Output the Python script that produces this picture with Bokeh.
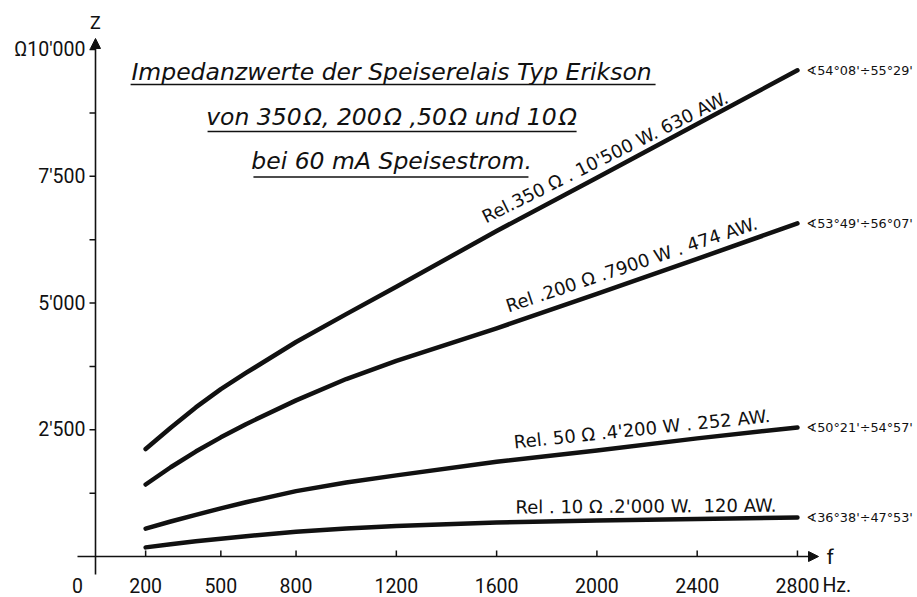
import math
from bokeh.plotting import figure
from bokeh.models import Range1d, Arrow, NormalHead
from bokeh.core.properties import value
from bokeh.embed import file_html
from bokeh.resources import INLINE

# ---------------- data ----------------
freq = [200, 300, 400, 500, 600, 800, 1000, 1200, 1600, 2000, 2400, 2800]
z_rel350 = [2120, 2540, 2940, 3300, 3620, 4230, 4780, 5320, 6420, 7470, 8530, 9590]
z_rel200 = [1420, 1760, 2070, 2350, 2610, 3080, 3500, 3860, 4500, 5180, 5870, 6570]
z_rel50 = [550, 690, 820, 950, 1070, 1290, 1460, 1600, 1870, 2090, 2330, 2545]
z_rel10 = [180, 240, 300, 350, 400, 490, 550, 600, 670, 710, 740, 770]

series_names = ["Rel.350 \u03a9 . 10'500 W. 630 AW.",
                "Rel .200 \u03a9 .7900 W . 474 AW.",
                "Rel.  50 \u03a9 .4'200 W . 252 AW.",
                "Rel . 10 \u03a9 .2'000 W.\u00a0 120 AW."]
angle_labels = ["\u222254\u00b008'\u00f755\u00b029'",
                "\u222253\u00b049'\u00f756\u00b007'",
                "\u222250\u00b021'\u00f754\u00b057'",
                "\u222236\u00b038'\u00f747\u00b053'"]

x_ticks = [200, 500, 800, 1200, 1600, 2000, 2400, 2800]
x_tick_labels = ["200", "500", "800", "1200", "1600", "2000", "2400", "2800"]
x_origin_label = "0"
x_unit = "Hz."
y_ticks = [2500, 5000, 7500, 10000]
y_tick_labels = ["2'500", "5'000", "7'500", "\u03a910'000"]
y_minor = [1250, 3750, 6250, 8750]

title_lines = ["Impedanzwerte der Speiserelais Typ Erikson",
               "von 350\u200a\u03a9, 200\u200a\u03a9 ,50\u200a\u03a9 und 10\u200a\u03a9",
               "bei 60 mA Speisestrom."]

# ---------------- layout constants ----------------
W, H = 917, 597
ORIGIN_PX = (95, 556)          # where f=0, Z=0 sits on the canvas
SX = 0.2507                    # px per Hz
SY = 0.0507                    # px per Ohm
X_RANGE = (-ORIGIN_PX[0] / SX, (W - ORIGIN_PX[0]) / SX)
Y_RANGE = (-(H - ORIGIN_PX[1]) / SY, ORIGIN_PX[1] / SY)

INK = "#111111"
TICK_FONT = "Roboto"
LAB_FONT = "DejaVu Sans"
TITLE_FONT = "DejaVu Sans"
TICK_PX = 6

p = figure(width=W, height=H, output_backend="svg", toolbar_location=None,
           x_range=Range1d(*X_RANGE), y_range=Range1d(*Y_RANGE),
           x_axis_type=None, y_axis_type=None, min_border=0)
p.outline_line_color = None
p.background_fill_color = "white"
p.border_fill_color = "white"

# ---- axes: lines with arrow heads ----
x_axis_left, x_axis_right = -18 / SX, 2884
y_axis_bottom, y_axis_top = -18 / SY, 10217
p.add_layout(Arrow(x_start=x_axis_left, y_start=0, x_end=x_axis_right, y_end=0,
                   line_width=1.6, line_color=INK,
                   end=NormalHead(size=10, fill_color=INK, line_color=INK, line_width=1)))
p.add_layout(Arrow(x_start=0, y_start=y_axis_bottom, x_end=0, y_end=y_axis_top,
                   line_width=1.6, line_color=INK,
                   end=NormalHead(size=10, fill_color=INK, line_color=INK, line_width=1)))

# x ticks (pointing up) and labels
p.segment(x0=x_ticks, y0=[0] * len(x_ticks), x1=x_ticks, y1=[TICK_PX / SY] * len(x_ticks),
          line_width=1.5, line_color=INK)
p.text(x=x_ticks, y=[0] * len(x_ticks), text=x_tick_labels, y_offset=29,
       text_font=value(TICK_FONT), text_font_size="19.5px", text_color=INK,
       text_align="center", text_baseline="middle")
p.text(x=[0], y=[0], text=[x_origin_label], x_offset=-18, y_offset=29,
       text_font=value(TICK_FONT), text_font_size="19.5px", text_color=INK,
       text_align="center", text_baseline="middle")
p.text(x=[x_ticks[-1]], y=[0], text=[x_unit], x_offset=25, y_offset=29,
       text_font=value(TICK_FONT), text_font_size="19.5px", text_color=INK,
       text_align="left", text_baseline="middle")

# y ticks (pointing left) and labels
y_all = sorted(y_ticks + y_minor)
p.segment(x0=[0] * len(y_all), y0=y_all, x1=[-TICK_PX / SX] * len(y_all), y1=y_all,
          line_width=1.5, line_color=INK)
p.text(x=[0] * len(y_ticks), y=y_ticks, text=y_tick_labels, x_offset=-10,
       text_font=value(TICK_FONT), text_font_size="19.5px", text_color=INK,
       text_align="right", text_baseline="middle")

# axis letters
p.text(x=[0], y=[y_axis_top], text=["Z"], y_offset=-16,
       text_font=value(TICK_FONT), text_font_size="18px", text_color=INK,
       text_align="center", text_baseline="middle")
p.text(x=[x_axis_right], y=[0], text=["f"], x_offset=8,
       text_font=value(TICK_FONT), text_font_size="21px", text_color=INK,
       text_align="left", text_baseline="middle")

# ---- curves ----
for zs in (z_rel350, z_rel200, z_rel50, z_rel10):
    p.line(freq, zs, line_width=4.5, line_color=INK, line_cap="round", line_join="round")

# curve labels (anchor = middle of the text's left end)
lab_x = [1546, 1639, 1669, 1675]
lab_y = [6682, 4935, 2258, 976]
lab_angle_deg = [26.5, 18.5, 5.9, 0.4]
p.text(x=lab_x, y=lab_y, text=series_names, angle=[math.radians(a) for a in lab_angle_deg],
       text_font=value(LAB_FONT), text_font_size="18px", text_color=INK,
       text_align="left", text_baseline="middle")

# angle labels at right end of each curve
ends = [z_rel350[-1], z_rel200[-1], z_rel50[-1], z_rel10[-1]]
p.text(x=[freq[-1]] * 4, y=ends, text=angle_labels, x_offset=9,
       text_font=value("DejaVu Sans"), text_font_size="12.8px", text_color=INK,
       text_align="left", text_baseline="middle")

# ---- title with underlines ----
title_x = [1181, 1181, 1181]
title_y = [9556, 8659, 7791]
p.text(x=title_x, y=title_y, text=title_lines, text_font=value(TITLE_FONT),
       text_font_style="italic", text_font_size="23.5px", text_color=INK,
       text_align="center", text_baseline="middle")
ul_x0 = [140, 447, 630]
ul_x1 = [2234, 1919, 1727]
ul_y = [9310, 8383, 7485]
p.segment(x0=ul_x0, y0=ul_y, x1=ul_x1, y1=ul_y, line_width=1.6, line_color=INK)

open("out.html", "w").write(file_html(p, INLINE))
